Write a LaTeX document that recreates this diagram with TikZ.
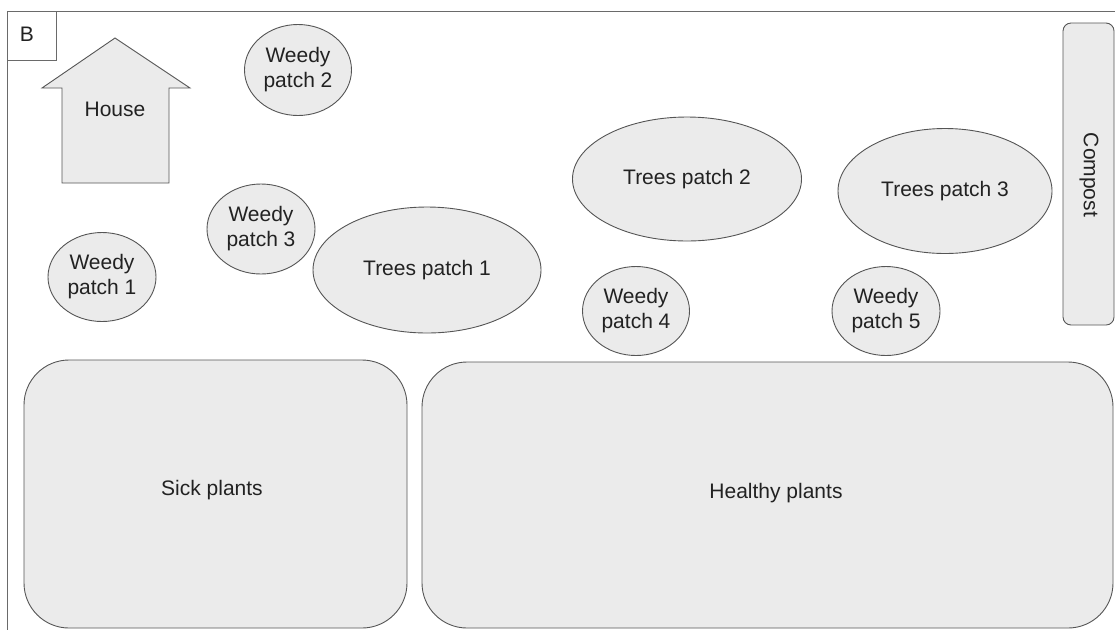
\documentclass[tikz,border=0pt]{standalone}
\usepackage{fontspec}
\setmainfont{Liberation Sans}
\usetikzlibrary{shapes.geometric}
\definecolor{shapefill}{HTML}{EBEBEB}
\definecolor{shapeline}{HTML}{555555}
\definecolor{framecol}{HTML}{6A6A6A}
\definecolor{txt}{HTML}{222222}
\tikzset{
  patch/.style={ellipse, draw=shapeline, fill=shapefill, line width=0.9pt, inner sep=0pt, align=center, text=txt, font=\fontsize{21}{25}\selectfont},
  bed/.style={draw=shapeline, fill=shapefill, line width=0.9pt, rounded corners=45pt},
  lbl/.style={text=txt, font=\fontsize{21}{25}\selectfont, align=center, inner sep=0pt},
  frame/.style={draw=framecol, line width=0.9pt}
}
\begin{document}
\begin{tikzpicture}[x=1pt,y=-1pt]
\useasboundingbox (0,0) rectangle (1115,630);
% frame
\draw[frame] (1115,11) -- (7,11) -- (7,630);
\draw[frame] (7,60) -- (56,60) -- (56,11);
\node[lbl] (B) at (27,34) {B};
% house
\draw[draw=shapeline, fill=shapefill, line width=0.9pt] (115,38) -- (190,88) -- (169,88) -- (169,183) -- (62,183) -- (62,88) -- (42,88) -- cycle;
\node[lbl] (house) at (115,109) {House};
% weedy patches
\node[patch, minimum width=107pt, minimum height=91pt] (w2) at (298,70) {Weedy\\patch 2};
\node[patch, minimum width=108pt, minimum height=90pt] (w3) at (261,229) {Weedy\\patch 3};
\node[patch, minimum width=108pt, minimum height=89pt] (w1) at (102,277) {Weedy\\patch 1};
\node[patch, minimum width=107pt, minimum height=89pt] (w4) at (636,311) {Weedy\\patch 4};
\node[patch, minimum width=108pt, minimum height=89pt] (w5) at (886,311) {Weedy\\patch 5};
% tree patches
\node[patch, minimum width=228pt, minimum height=126pt] (t1) at (427,270) {Trees patch 1};
\node[patch, minimum width=229pt, minimum height=124pt] (t2) at (687,179) {Trees patch 2};
\node[patch, minimum width=214pt, minimum height=125pt] (t3) at (945,191) {Trees patch 3};
% compost
\draw[draw=shapeline, fill=shapefill, line width=0.9pt, rounded corners=8pt] (1063,23) rectangle (1114,325);
\node[lbl, rotate=-90] (compost) at (1089,175) {Compost};
% beds
\draw[bed] (24,360) rectangle (407,628);
\node[lbl] (sick) at (212,490) {Sick plants};
\draw[bed] (422,362) rectangle (1113,628);
\node[lbl] (healthy) at (776,493) {Healthy plants};
\end{tikzpicture}
\end{document}
